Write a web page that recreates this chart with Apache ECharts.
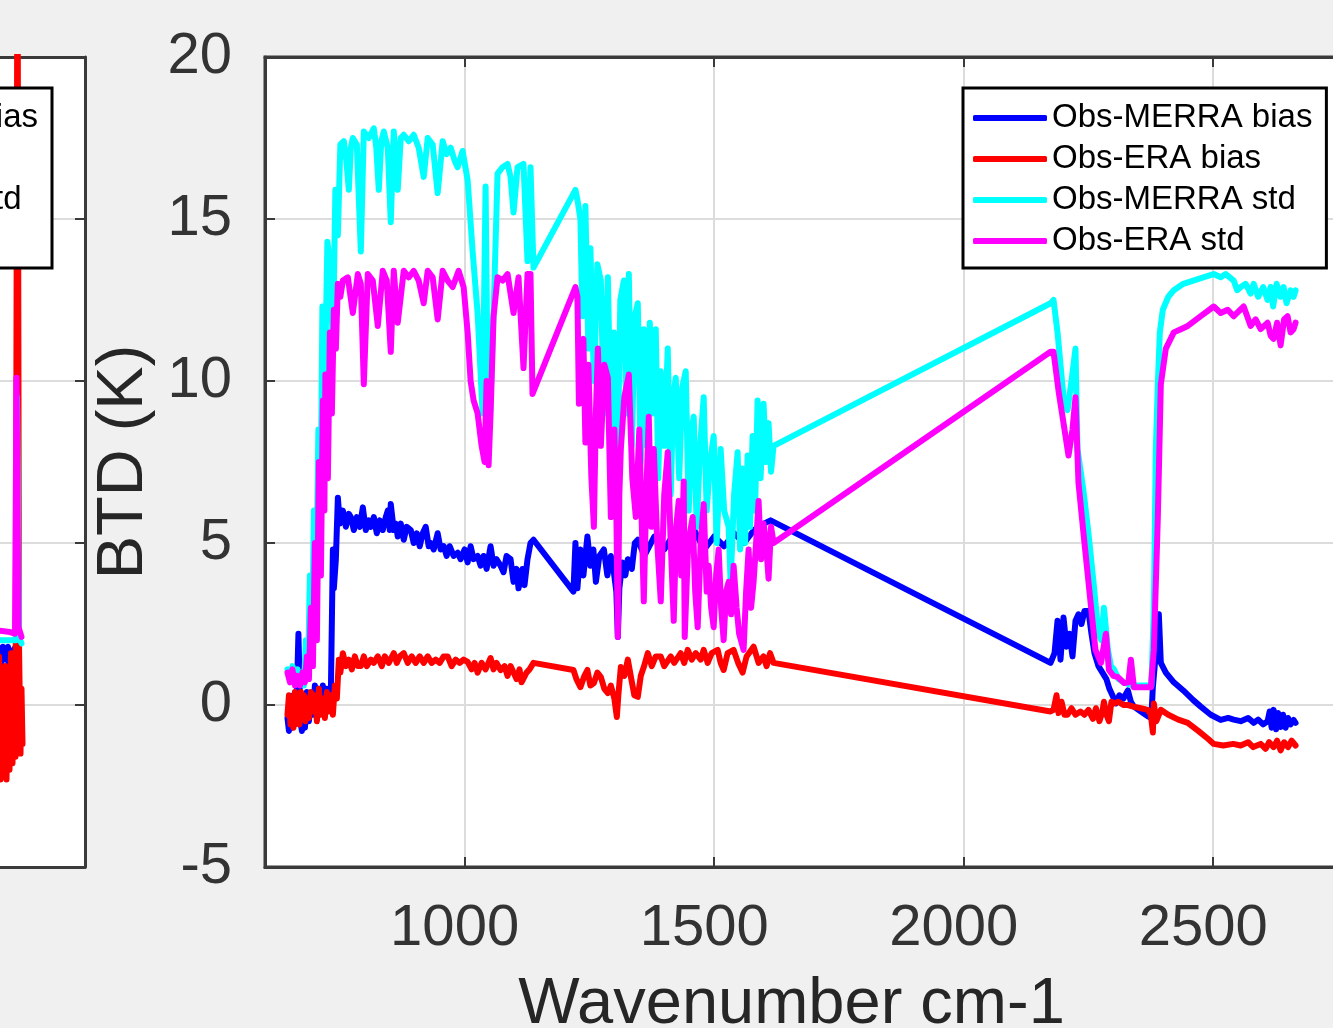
<!DOCTYPE html>
<html>
<head>
<meta charset="utf-8">
<script src="https://cdn.jsdelivr.net/npm/echarts@6/dist/echarts.min.js"></script>
<style>
html, body { margin: 0; padding: 0; background: #f0f0f0; }
#chart { width: 1333px; height: 1028px; }
</style>
</head>
<body>
<div id="chart"></div>
<script>
// tick labels
var xTicks = [1000, 1500, 2000, 2500];
var seriesNames = ['Obs-MERRA bias', 'Obs-ERA bias', 'Obs-MERRA std', 'Obs-ERA std'];
var seriesColors = ['#0000ff', '#ff0000', '#00ffff', '#ff00ff'];

// main panel, [wavenumber cm-1, BTD K]
var merraBias = [
	[645,-0.4],[648,-0.8],[651,0.1],[654,-0.7],[657,0.3],[660,-0.6],[664,0.5],[667,2.2],[669,0.9],[671,-0.5],
	[674,-0.8],[677,0.2],[680,-0.7],[684,0.4],[688,-0.5],[692,0.3],[696,-0.3],[700,0.6],[704,-0.2],[708,0.5],
	[712,-0.1],[716,0.6],[720,0.0],[724,0.5],[728,-0.1],[732,0.4],[736,4.8],[738,3.6],[742,4.5],[746,6.4],
	[750,5.6],[756,6.0],[762,5.5],[768,5.9],[772,5.8],[778,5.4],[784,5.8],[790,5.5],[796,6.1],[802,5.4],
	[808,5.7],[812,5.5],[818,5.8],[824,5.3],[830,5.7],[836,5.4],[842,5.8],[846,6.0],[850,5.4],[852,6.2],
	[858,5.4],[862,5.6],[866,5.2],[872,5.6],[878,5.1],[884,5.5],[892,5.4],[898,5.0],[904,5.3],[910,4.9],
	[916,5.3],[922,5.5],[928,4.9],[932,5.0],[938,4.8],[946,5.3],[952,4.8],[958,4.9],[964,4.6],[970,4.9],
	[978,4.6],[986,4.7],[992,4.5],[1000,4.8],[1006,4.4],[1012,4.9],[1018,4.5],[1026,4.6],[1032,4.3],[1038,4.6],
	[1044,4.2],[1052,4.9],[1058,4.3],[1064,4.5],[1072,4.3],[1078,4.1],[1084,4.6],[1092,4.5],[1098,3.8],[1104,4.2],
	[1108,3.6],[1112,3.6],[1116,4.2],[1120,3.7],[1126,4.5],[1132,5.0],[1138,5.1],
	[1218,3.5],[1222,5.0],[1226,3.6],[1232,4.8],[1238,4.0],[1246,5.2],[1252,4.3],[1258,4.8],[1263,3.8],[1270,4.6],
	[1279,4.8],[1286,4.0],[1293,4.6],[1299,4.1],[1304,3.5],[1307,2.1],[1310,3.6],[1316,4.4],[1322,4.0],[1327,4.5],
	[1335,4.2],[1341,5.0],[1347,5.1],[1360,4.6],[1380,5.2],[1400,4.8],[1420,5.3],[1440,4.9],[1460,5.4],[1480,4.8],
	[1500,5.2],[1520,4.9],[1540,5.3],[1560,5.0],[1580,5.4],[1600,5.6],[1613,5.7],
	[2174,1.3],[2182,1.6],[2188,2.6],[2194,1.4],[2200,2.7],[2206,1.8],[2212,2.2],[2218,1.5],[2224,2.6],[2230,2.8],
	[2236,2.5],[2242,2.9],[2250,2.9],[2256,2.2],[2262,1.6],[2270,1.2],[2278,1.0],[2286,0.8],[2292,0.5],[2298,0.3],
	[2305,0.05],[2312,0.3],[2320,0.2],[2329,0.45],[2335,0.1],[2341,-0.05],[2355,-0.2],[2369,-0.35],[2376,-0.4],[2379,0.55],
	[2385,1.6],[2391,2.8],[2395,1.3],[2405,1.0],[2421,0.7],[2440,0.45],[2460,0.15],[2475,-0.05],[2495,-0.3],[2515,-0.46],
	[2530,-0.4],[2541,-0.45],[2555,-0.5],[2570,-0.4],[2581,-0.55],[2590,-0.45],[2600,-0.6],[2609,-0.5],[2613,-0.2],[2617,-0.7],
	[2621,-0.15],[2626,-0.75],[2630,-0.25],[2635,-0.68],[2640,-0.3],[2645,-0.7],[2650,-0.4],[2655,-0.6],[2661,-0.46],[2665,-0.55]
];
var eraBias = [
	[645,-0.3],[648,0.3],[651,-0.6],[654,0.2],[657,-0.7],[660,0.4],[663,-0.4],[666,0.1],[669,-0.6],[672,0.4],
	[675,-0.3],[678,0.3],[681,-0.5],[684,0.2],[688,-0.4],[692,0.4],[696,-0.2],[700,0.3],[704,-0.5],[708,0.5],
	[712,-0.3],[716,0.2],[720,-0.4],[724,0.4],[728,-0.2],[732,0.3],[736,-0.3],[740,0.6],[744,0.2],[748,1.4],
	[751,1.0],[756,1.6],[762,1.2],[768,1.4],[774,1.1],[780,1.5],[786,1.2],[792,1.2],[798,1.5],[804,1.2],
	[812,1.4],[818,1.3],[826,1.5],[834,1.2],[840,1.5],[848,1.3],[858,1.6],[864,1.3],[870,1.5],[878,1.6],
	[886,1.3],[894,1.5],[902,1.3],[910,1.5],[918,1.3],[926,1.5],[934,1.3],[942,1.4],[950,1.3],[958,1.5],
	[966,1.5],[974,1.2],[982,1.4],[990,1.3],[998,1.4],[1006,1.33],[1014,1.1],[1020,1.3],[1026,1.0],[1034,1.3],
	[1042,1.1],[1052,1.45],[1058,1.1],[1064,1.3],[1072,1.08],[1080,1.2],[1086,0.9],[1092,1.2],[1098,1.0],[1104,0.8],
	[1110,1.1],[1114,0.7],[1118,0.68],[1124,1.0],[1130,1.1],[1138,1.3],
	[1218,1.08],[1224,0.8],[1232,0.55],[1240,0.9],[1246,1.08],[1252,0.6],[1259,0.68],[1266,1.0],[1273,0.86],[1280,0.5],
	[1287,0.37],[1293,0.6],[1300,0.2],[1305,-0.37],[1308,0.3],[1313,1.17],[1320,0.9],[1327,1.4],[1334,0.8],[1340,0.3],
	[1347,0.25],[1353,0.9],[1359,1.17],[1367,1.6],[1375,1.2],[1383,1.5],[1393,1.5],[1400,1.2],[1413,1.5],[1420,1.3],
	[1433,1.6],[1440,1.3],[1447,1.7],[1455,1.4],[1463,1.6],[1473,1.4],[1479,1.7],[1487,1.3],[1495,1.6],[1507,1.7],
	[1513,1.3],[1519,1.08],[1527,1.6],[1539,1.7],[1548,1.3],[1557,1.0],[1565,1.5],[1579,1.8],[1589,1.3],[1599,1.5],
	[1605,1.2],[1612,1.6],[1619,1.3],
	[2174,-0.2],[2180,-0.15],[2186,0.3],[2190,-0.25],[2196,0.1],[2202,-0.3],[2208,-0.3],[2216,-0.1],[2224,-0.3],[2234,-0.2],
	[2242,-0.3],[2250,-0.15],[2259,-0.43],[2265,-0.1],[2272,-0.5],[2278,-0.2],[2281,0.1],[2286,-0.3],[2291,-0.5],[2296,0.1],
	[2301,0.05],[2310,0.1],[2320,0.0],[2329,0.0],[2340,-0.05],[2355,-0.1],[2369,-0.15],[2375,-0.3],[2379,-0.85],[2381,0.05],
	[2386,-0.5],[2395,-0.15],[2410,-0.3],[2430,-0.45],[2449,-0.55],[2470,-0.8],[2490,-1.05],[2501,-1.2],[2520,-1.25],[2540,-1.2],
	[2555,-1.25],[2570,-1.15],[2580,-1.3],[2595,-1.2],[2605,-1.35],[2612,-1.15],[2621,-1.3],[2628,-1.1],[2635,-1.4],[2642,-1.15],
	[2650,-1.3],[2657,-1.1],[2665,-1.25]
];
var merraStd = [
	[645,1.1],[650,0.8],[655,1.2],[660,0.9],[665,1.1],[670,0.7],[674,1.0],[678,0.6],[682,2.0],[686,0.9],
	[690,4.0],[694,1.5],[698,6.0],[702,3.0],[707,8.5],[711,5.5],[715,12.3],[719,9.0],[725,14.3],[731,13.5],
	[736,11.0],[741,15.9],[746,14.5],[751,17.3],[758,17.4],[763,16.8],[768,15.9],[772,17.2],[776,17.5],[784,17.3],
	[792,14.0],[798,17.7],[808,17.5],[818,17.8],[823,17.2],[828,15.9],[833,17.4],[838,17.7],[846,17.2],[852,14.9],
	[858,17.7],[866,15.9],[872,17.5],[878,17.6],[888,17.4],[898,17.6],[908,17.2],[918,16.3],[926,17.5],[936,17.3],
	[946,15.8],[956,17.4],[964,17.0],[972,17.2],[980,16.8],[986,16.6],[996,17.1],[1006,16.2],[1016,14.0],[1026,12.1],
	[1036,9.0],[1042,16.0],[1046,10.0],[1050,8.5],[1058,12.1],[1066,16.4],[1076,16.6],[1086,16.7],[1092,16.3],[1098,15.2],
	[1106,16.6],[1118,16.7],[1126,13.7],[1132,16.6],[1138,13.5],
	[1222,15.9],[1226,15.6],[1232,15.0],[1236,12.0],[1242,15.4],[1248,11.0],[1252,14.1],[1259,10.0],[1266,13.6],[1273,13.1],
	[1279,9.0],[1287,13.2],[1293,8.5],[1299,11.5],[1305,6.0],[1312,12.5],[1319,13.1],[1324,9.0],[1329,13.3],[1335,8.0],
	[1341,12.0],[1347,12.4],[1353,7.5],[1359,11.6],[1365,8.0],[1371,11.8],[1377,9.0],[1383,11.6],[1388,7.0],[1393,10.3],
	[1400,8.0],[1407,11.0],[1413,6.5],[1418,9.5],[1423,10.1],[1430,7.0],[1436,9.8],[1443,10.3],[1449,6.0],[1455,8.5],
	[1459,8.9],[1465,5.5],[1472,8.0],[1479,9.5],[1485,6.0],[1492,7.5],[1499,8.3],[1505,5.0],[1513,7.9],[1520,6.0],
	[1529,5.5],[1533,3.8],[1540,6.5],[1547,7.8],[1552,4.8],[1557,7.3],[1562,5.0],[1567,7.7],[1572,5.5],[1577,8.3],
	[1582,6.0],[1587,9.4],[1593,7.0],[1599,9.3],[1604,7.5],[1609,8.7],[1614,7.2],[1619,8.0],
	[2174,12.4],[2180,12.5],[2188,11.5],[2200,9.5],[2208,9.1],[2216,10.0],[2224,11.0],[2228,7.9],[2240,6.6],[2250,5.3],
	[2260,3.8],[2270,2.2],[2276,2.0],[2281,3.0],[2289,1.7],[2295,1.2],[2301,1.1],[2310,0.8],[2320,0.7],[2340,0.6],
	[2360,0.6],[2376,0.6],[2381,3.0],[2385,7.9],[2389,9.9],[2393,11.5],[2399,12.2],[2410,12.6],[2421,12.8],[2440,13.0],
	[2460,13.1],[2480,13.2],[2501,13.3],[2515,13.2],[2525,13.3],[2541,13.1],[2548,12.8],[2555,12.9],[2565,13.0],[2575,12.7],
	[2581,13.0],[2590,12.6],[2600,12.9],[2609,12.5],[2615,12.9],[2620,12.3],[2627,13.0],[2635,12.6],[2641,12.9],[2647,12.4],
	[2655,12.8],[2661,12.6],[2665,12.8]
];
var eraStd = [
	[645,1.0],[650,0.7],[655,1.1],[660,0.6],[665,0.9],[670,0.6],[675,1.0],[680,0.7],[684,1.5],[688,0.8],
	[692,3.0],[696,1.2],[700,5.0],[704,2.0],[708,7.5],[712,4.0],[716,9.4],[719,6.0],[721,10.2],[726,7.0],
	[730,11.5],[734,9.0],[738,12.2],[742,11.0],[746,13.0],[751,12.6],[756,13.1],[766,13.2],[776,12.1],[786,13.3],
	[792,13.0],[798,9.9],[806,13.3],[816,13.1],[826,11.7],[836,13.4],[844,13.1],[852,10.9],[858,13.4],[866,11.8],
	[878,13.4],[888,13.2],[898,13.4],[908,13.1],[918,12.4],[926,13.4],[936,13.2],[946,11.9],[956,13.4],[966,13.1],
	[976,12.9],[988,13.4],[998,12.9],[1006,11.5],[1012,10.0],[1018,9.4],[1026,9.0],[1034,8.0],[1040,7.5],[1044,10.0],
	[1048,7.4],[1052,9.0],[1058,12.0],[1066,13.2],[1076,13.1],[1086,13.3],[1098,12.1],[1108,13.2],[1118,10.4],[1126,13.3],
	[1132,13.3],[1136,9.6],
	[1222,12.9],[1226,12.6],[1229,9.3],[1233,11.0],[1238,11.3],[1242,8.1],[1248,10.5],[1254,7.0],[1259,5.5],[1263,9.0],
	[1267,11.0],[1273,8.0],[1280,10.5],[1287,10.1],[1293,5.8],[1300,8.5],[1304,6.0],[1307,2.1],[1310,6.5],[1313,7.9],
	[1320,9.5],[1329,10.2],[1336,7.0],[1343,5.8],[1350,8.5],[1359,3.2],[1364,6.5],[1369,8.9],[1374,5.5],[1379,7.9],
	[1386,5.0],[1393,3.2],[1400,6.5],[1407,7.8],[1413,5.0],[1419,2.6],[1424,5.5],[1429,6.3],[1434,4.0],[1439,6.9],
	[1441,2.1],[1448,5.0],[1457,5.8],[1462,3.5],[1467,2.4],[1473,5.0],[1479,6.2],[1485,3.5],[1489,4.3],[1494,3.0],
	[1499,2.4],[1504,4.0],[1509,4.8],[1514,3.0],[1519,2.0],[1524,3.5],[1529,3.8],[1534,2.8],[1539,4.3],[1545,3.0],
	[1550,2.2],[1559,1.7],[1564,3.5],[1569,4.8],[1574,3.0],[1579,3.8],[1584,5.0],[1589,6.3],[1594,4.5],[1599,5.6],
	[1604,5.0],[1609,3.9],[1614,5.5],[1619,5.0],
	[2174,10.9],[2180,10.9],[2190,9.7],[2204,8.3],[2210,7.7],[2218,8.5],[2224,9.5],[2230,6.85],[2240,5.3],[2250,3.8],
	[2264,1.7],[2275,1.3],[2285,2.2],[2291,1.08],[2300,0.9],[2309,0.86],[2321,0.68],[2330,0.7],[2335,1.4],[2341,0.55],
	[2360,0.55],[2375,0.55],[2381,1.7],[2389,5.8],[2395,9.9],[2405,11.0],[2421,11.5],[2435,11.6],[2449,11.7],[2475,12.0],
	[2501,12.3],[2515,12.1],[2529,12.2],[2541,12.0],[2561,12.3],[2575,11.7],[2585,11.9],[2595,11.6],[2609,11.8],[2615,11.4],
	[2621,11.3],[2628,11.8],[2635,11.1],[2642,11.9],[2649,12.0],[2655,11.5],[2661,11.6],[2665,11.8]
];

// partly visible panel on the left (only its right edge shows)
var leftMerraBias = [[2575,1.8],[2582,1.2],[2586,1.8],[2592,1.4],[2596,1.8],[2600,0.5],[2604,-0.5],[2607,1.7],[2612,1.8]];
var leftEraBias = [
	[2575,-2.0],[2578,1.5],[2581,-2.3],[2584,0.8],[2587,-2.2],[2590,1.2],[2593,-2.3],[2596,0.5],[2599,-2.0],[2602,1.6],
	[2605,-1.8],[2608,1.0],[2611,-1.6],[2615,25],[2618,1.9],[2621,-1.5],[2623,0.5],[2625,-1.2]
];
var leftMerraStd = [[2575,2.0],[2600,2.0],[2612,2.0],[2614,9.5],[2618,2.1],[2623,1.9]];
var leftEraStd = [[2575,2.3],[2600,2.25],[2610,2.2],[2613,10.1],[2617,2.4],[2623,2.1]];

var mainData = [merraBias, eraBias, merraStd, eraStd];
var leftData = [leftMerraBias, leftEraBias, leftMerraStd, leftEraStd];

var axisColor = '#3a3a3a';
var gridColor = '#dcdcdc';
var font = 'Liberation Sans, Arial, sans-serif';

function makeSeries(data, i, xi, yi) {
	return {
		name: seriesNames[i],
		type: 'line',
		xAxisIndex: xi,
		yAxisIndex: yi,
		data: data,
		symbol: 'none',
		showSymbol: false,
		silent: true,
		lineStyle: { color: seriesColors[i], width: 6, cap: 'round', join: 'round' },
		itemStyle: { color: seriesColors[i] },
		z: 2 + i
	};
}

var series = [];
for (var i = 0; i < 4; i++) series.push(makeSeries(mainData[i], i, 0, 0));
for (var j = 0; j < 4; j++) series.push(makeSeries(leftData[j], j, 2, 1));

function legendBox(pos) {
	var l = {
		orient: 'vertical',
		top: 88,
		data: seriesNames,
		icon: 'roundRect',
		itemWidth: 74,
		itemHeight: 6,
		itemGap: 7,
		padding: [13, 14, 10, 10],
		borderColor: '#000',
		borderWidth: 3,
		backgroundColor: '#fff',
		selectedMode: false,
		textStyle: { fontSize: 33, color: '#000', lineHeight: 34, fontFamily: font }
	};
	for (var k in pos) l[k] = pos[k];
	return l;
}

function plainAxis(grid, pos, min, max) {
	return {
		gridIndex: grid,
		type: 'value',
		position: pos,
		min: min,
		max: max,
		axisLine: { show: true, onZero: false, lineStyle: { color: axisColor, width: 3 } },
		axisTick: { show: false },
		axisLabel: { show: false },
		splitLine: { show: false }
	};
}

var myChart = echarts.init(document.getElementById('chart'));

var topAxis = plainAxis(0, 'top', 600, 2750);
topAxis.axisTick = { show: true, inside: true, length: 10, customValues: xTicks, lineStyle: { color: axisColor, width: 2 } };

var leftRightAxis = plainAxis(1, 'right', -5, 20);
leftRightAxis.interval = 5;
leftRightAxis.axisTick = { show: true, inside: true, length: 10, lineStyle: { color: axisColor, width: 2 } };
leftRightAxis.splitLine = { show: true, lineStyle: { color: gridColor, width: 2 } };

var option = {
	backgroundColor: '#f0f0f0',
	animation: false,
	grid: [
		{ left: 265, top: 57, width: 1073, bottom: 161, show: true, backgroundColor: '#fff', borderColor: axisColor, borderWidth: 3, outerBoundsMode: 'none' },
		{ left: 0, top: 57, width: 85, bottom: 161, show: true, backgroundColor: '#fff', borderWidth: 0, outerBoundsMode: 'none' }
	],
	legend: [legendBox({ left: 963 }), legendBox({ right: 1281 })],
	xAxis: [ {
		gridIndex: 0,
		type: 'value',
		min: 600,
		max: 2750,
		position: 'bottom',
		axisLine: { onZero: false, lineStyle: { color: axisColor, width: 3 } },
		axisTick: { inside: true, length: 10, customValues: xTicks, lineStyle: { color: axisColor, width: 2 } },
		axisLabel: {
			customValues: xTicks, fontSize: 58, color: '#333', fontFamily: font, margin: 33, padding: [0, 20, 0, 0],
			formatter: function(v) { return String(v); }
		},
		splitLine: { show: true, lineStyle: { color: gridColor, width: 2 } },
		name: 'Wavenumber cm-1',
		nameLocation: 'middle',
		nameGap: 106,
		nameTextStyle: { fontSize: 65, color: '#262626', fontFamily: font, padding: [0, 20, 0, 0] }
	},
	topAxis,
	plainAxis(1, 'bottom', 2580, 2750),
	plainAxis(1, 'top', 2580, 2750) ],
	yAxis: [ {
		gridIndex: 0,
		type: 'value',
		min: -5,
		max: 20,
		interval: 5,
		axisLine: { show: true, onZero: false, lineStyle: { color: axisColor, width: 3 } },
		axisTick: { show: true, inside: true, length: 10, lineStyle: { color: axisColor, width: 2 } },
		axisLabel: { fontSize: 58, color: '#333', fontFamily: font, margin: 33 },
		splitLine: { show: true, lineStyle: { color: gridColor, width: 2 } },
		name: 'BTD (K)',
		nameLocation: 'middle',
		nameGap: 106,
		nameTextStyle: { fontSize: 65, color: '#262626', fontFamily: font }
	},
	leftRightAxis ],
	series: series
};
myChart.setOption(option);
</script>
</body>
</html>
